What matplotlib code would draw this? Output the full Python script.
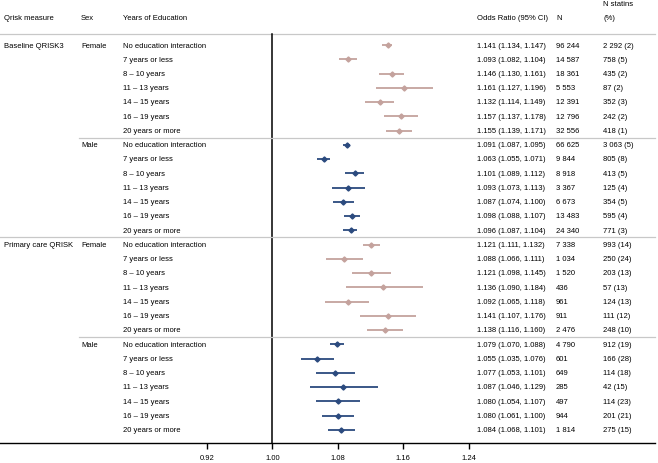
import matplotlib
matplotlib.use("Agg")
import matplotlib.pyplot as plt
import matplotlib.transforms as mtransforms

plt.rcParams["font.family"] = ["Liberation Sans", "DejaVu Sans"]

# ---- data ----
measures = ["Baseline QRISK3", "Primary care QRISK"]
sexes = ["Female", "Male"]
edu = ["No education interaction", "7 years or less", "8 \u2013 10 years",
       "11 \u2013 13 years", "14 \u2013 15 years", "16 \u2013 19 years",
       "20 years or more"]

odds = [1.141, 1.093, 1.146, 1.161, 1.132, 1.157, 1.155,
        1.091, 1.063, 1.101, 1.093, 1.087, 1.098, 1.096,
        1.121, 1.088, 1.121, 1.136, 1.092, 1.141, 1.138,
        1.079, 1.055, 1.077, 1.087, 1.080, 1.080, 1.084]
lo = [1.134, 1.082, 1.130, 1.127, 1.114, 1.137, 1.139,
      1.087, 1.055, 1.089, 1.073, 1.074, 1.088, 1.087,
      1.111, 1.066, 1.098, 1.090, 1.065, 1.107, 1.116,
      1.070, 1.035, 1.053, 1.046, 1.054, 1.061, 1.068]
hi = [1.147, 1.104, 1.161, 1.196, 1.149, 1.178, 1.171,
      1.095, 1.071, 1.112, 1.113, 1.100, 1.107, 1.104,
      1.132, 1.111, 1.145, 1.184, 1.118, 1.176, 1.160,
      1.088, 1.076, 1.101, 1.129, 1.107, 1.100, 1.101]
n_total = ["96 244", "14 587", "18 361", "5 553", "12 391", "12 796", "32 556",
           "66 625", "9 844", "8 918", "3 367", "6 673", "13 483", "24 340",
           "7 338", "1 034", "1 520", "436", "961", "911", "2 476",
           "4 790", "601", "649", "285", "497", "944", "1 814"]
n_statins = ["2 292 (2)", "758 (5)", "435 (2)", "87 (2)", "352 (3)", "242 (2)", "418 (1)",
             "3 063 (5)", "805 (8)", "413 (5)", "125 (4)", "354 (5)", "595 (4)", "771 (3)",
             "993 (14)", "250 (24)", "203 (13)", "57 (13)", "124 (13)", "111 (12)", "248 (10)",
             "912 (19)", "166 (28)", "114 (18)", "42 (15)", "114 (23)", "201 (21)", "275 (15)"]
ticks = [0.92, 1.00, 1.08, 1.16, 1.24]

colors = {"Female": "#c4a29d", "Male": "#2b4a7e"}

W, H = 658, 464
fig = plt.figure(figsize=(W / 100, H / 100), dpi=100)
# axes spans the figure width; y in pixel units from the top
ax = fig.add_axes([0, 20 / H, 655 / W, 444 / H])
px_per_unit = 817.5
x0 = 1.0 - 272.3 / px_per_unit
ax.set_xlim(x0, x0 + 655 / px_per_unit)
ax.set_ylim(444, 0)
for s in ["top", "right", "left"]:
    ax.spines[s].set_visible(False)
ax.spines["bottom"].set_linewidth(1.0)
ax.set_yticks([])
ax.set_xticks(ticks)
ax.set_xticklabels([f"{t:.2f}" for t in ticks], fontsize=5.5)
ax.tick_params(axis="x", length=4, width=1.0, pad=4)

tr = mtransforms.blended_transform_factory(ax.transAxes, ax.transData)
fs = 5.5


def txt(px, y, s, **kw):
    ax.text(px / 655, y, s, transform=tr, fontsize=fs, va="center", ha="left", **kw)


# headers
txt(4, 18, "Qrisk measure")
txt(81, 18, "Sex")
txt(123, 18, "Years of Education")
txt(477, 18, "Odds Ratio (95% CI)")
txt(556, 18, "N")
txt(603, 4, "N statins")
txt(603, 19, "(%)")

# separators
gray = "#c8c8c8"
ax.plot([0, 1], [34.5, 34.5], transform=tr, color=gray, lw=0.9, clip_on=False)
ax.axvline(1.0, ymin=0, ymax=(444 - 34.7) / 444, color="black", lw=1.1)

y_start, step = 46.0, 14.25
i = 0
for m, meas in enumerate(measures):
    for s, sex in enumerate(sexes):
        for e, lab in enumerate(edu):
            y = y_start + i * step
            if s == 0 and e == 0:
                txt(4, y, meas)
            if e == 0:
                txt(81, y, sex)
            txt(123, y, lab)
            txt(477, y, f"{odds[i]:.3f} ({lo[i]:.3f}, {hi[i]:.3f})")
            txt(556, y, n_total[i])
            txt(603, y, n_statins[i])
            c = colors[sex]
            ax.plot([lo[i], hi[i]], [y, y], color=c, lw=1.3, solid_capstyle="butt")
            ax.plot(odds[i], y, marker="D", ms=2.6, color=c, mec=c)
            i += 1
        if i < len(odds):
            ysep = y_start + (i - 0.5) * step
            xs = 0 if s == 1 else 79
            ax.plot([xs / 655, 1], [ysep, ysep], transform=tr, color=gray, lw=0.9,
                    clip_on=False)

fig.savefig("out.png", dpi=100)
